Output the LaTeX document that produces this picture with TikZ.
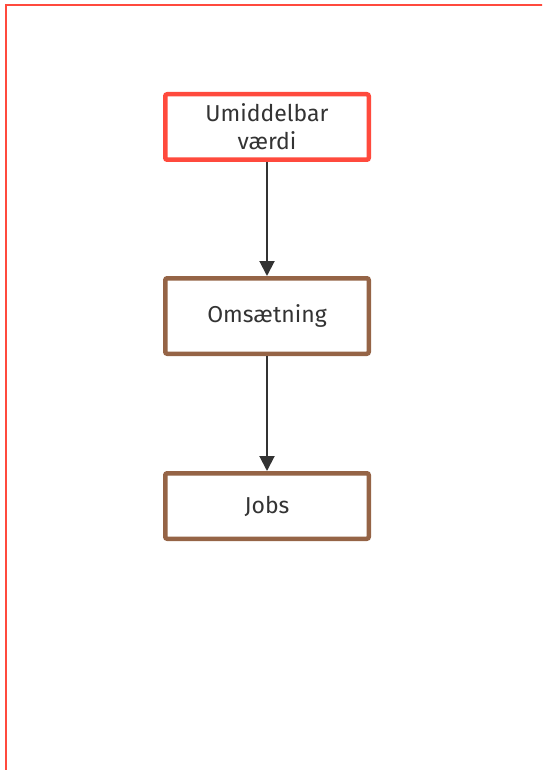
\documentclass[tikz,border=0pt]{standalone}
\usepackage{fontspec}
\setmainfont{Fira Sans}
\usetikzlibrary{arrows.meta}
\definecolor{framered}{HTML}{FF4A3D}
\definecolor{boxbrown}{HTML}{956446}
\definecolor{textgray}{HTML}{333333}
\tikzset{
    box/.style={draw=boxbrown, line width=4.5pt, rounded corners=2pt, fill=white,
        minimum width=203.5pt, minimum height=65.5pt, align=center,
        text=textgray, font=\fontsize{23}{28}\selectfont},
    topbox/.style={box, draw=framered},
    link/.style={draw=textgray, line width=2pt, -{Triangle[length=15pt,width=15pt]}}
}
\begin{document}
\begin{tikzpicture}[x=1pt, y=-1pt]
    \useasboundingbox (0,0) rectangle (542,770);
    \clip (0,0) rectangle (542,770);
    \draw [framered, line width=2pt] (6,5) rectangle (600,820);
    \node [topbox] (value) at (267,127) {Umiddelbar\\værdi};
    \node [box, minimum height=75.5pt] (revenue) at (267,316) {Omsætning};
    \node [box] (jobs) at (267,506) {Jobs};
    \draw [link] (value) -- (revenue);
    \draw [link] (revenue) -- (jobs);
\end{tikzpicture}
\end{document}
